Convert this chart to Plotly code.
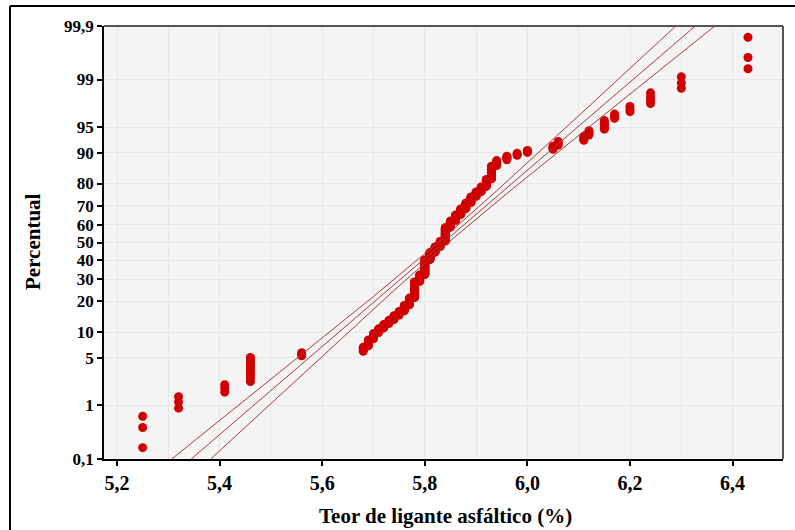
import plotly.graph_objects as go
from statistics import NormalDist

# ---- data ----
values = [5.25, 5.32, 5.41, 5.46, 5.56, 5.68, 5.69, 5.70, 5.71, 5.72, 5.73, 5.74, 5.75,
          5.76, 5.77, 5.78, 5.79, 5.80, 5.81, 5.82, 5.83, 5.84, 5.85, 5.86, 5.87, 5.88,
          5.89, 5.90, 5.91, 5.92, 5.93, 5.94, 5.96, 5.98, 6.00, 6.05, 6.06, 6.11, 6.12,
          6.15, 6.17, 6.20, 6.24, 6.30, 6.43]
counts = [3, 3, 3, 12, 3, 4, 6, 6, 5, 5, 5, 6, 6,
          9, 12, 30, 14, 33, 17, 13, 13, 32, 15, 13, 13, 12,
          12, 9, 9, 12, 19, 7, 5, 3, 3, 4, 4, 4, 4,
          6, 3, 3, 4, 3, 3]
ytick_pct = [0.1, 1, 5, 10, 20, 30, 40, 50, 60, 70, 80, 90, 95, 99, 99.9]
ytick_text = ["0,1", "1", "5", "10", "20", "30", "40", "50", "60", "70", "80", "90", "95", "99", "99,9"]
xtick_vals = [5.2, 5.4, 5.6, 5.8, 6.0, 6.2, 6.4]
fit_mean = 5.836
fit_sd = 0.159
band_mid = 0.010   # half-width of confidence band at 50 %
band_end = 0.038   # half-width of confidence band at the extremes

nd = NormalDist()
n = sum(counts)
x_pts, z_pts = [], []
i = 0
for v, c in zip(values, counts):
    for _ in range(c):
        i += 1
        x_pts.append(v)
        z_pts.append(nd.inv_cdf((i - 0.3) / (n + 0.4)))

zmax = nd.inv_cdf(0.999)
zline = [-zmax + 2 * zmax * k / 80 for k in range(81)]
b2 = (band_end ** 2 - band_mid ** 2) / zmax ** 2
half = [(band_mid ** 2 + b2 * z * z) ** 0.5 for z in zline]
x_fit = [fit_mean + fit_sd * z for z in zline]
x_lo = [xf - h for xf, h in zip(x_fit, half)]
x_hi = [xf + h for xf, h in zip(x_fit, half)]

fig = go.Figure()
fig.add_trace(go.Scatter(x=x_pts, y=z_pts, mode="markers",
                         marker=dict(color="#d00000", size=9, line=dict(width=0)),
                         showlegend=False, cliponaxis=False))
for xs in (x_lo, x_fit, x_hi):
    fig.add_trace(go.Scatter(x=xs, y=zline, mode="lines",
                             line=dict(color="#a83a3a", width=1),
                             showlegend=False))

W, H = 795, 530
L, R, T, B = 104, 12, 26, 71
pw, ph = W - L - R, H - T - B

def px(xp):
    return (xp - L) / pw

def py(yp):
    return (H - B - yp) / ph

xtickfont = dict(family="Liberation Serif", size=20, color="black", weight="bold")
ytickfont = dict(family="Liberation Serif", size=17, color="black", weight="bold")
titlefont = dict(family="Liberation Serif", size=21, color="black", weight="bold")
fig.update_layout(
    width=W, height=H,
    margin=dict(l=L, r=R, t=T, b=B, pad=0),
    paper_bgcolor="white", plot_bgcolor="#f4f4f4",
    separators=",.",
    xaxis=dict(range=[5.2 - 13 / 513, 5.2 + 666 / 513], tickvals=xtick_vals, tickformat=".1f",
               showgrid=True, gridcolor="#e6e6e6", gridwidth=1,
               minor=dict(dtick=0.1, tick0=5.2, showgrid=True, gridcolor="#e6e6e6", ticks=""),
               ticks="outside", ticklen=5, tickwidth=1.5, tickcolor="black",
               showline=True, linecolor="black", linewidth=1.5,
               tickfont=xtickfont, zeroline=False),
    yaxis=dict(range=[-zmax, zmax], tickvals=[nd.inv_cdf(p / 100) for p in ytick_pct],
               ticktext=ytick_text,
               showgrid=True, gridcolor="#e6e6e6", gridwidth=1,
               ticks="outside", ticklen=5, tickwidth=1.5, tickcolor="black",
               showline=True, linecolor="black", linewidth=1.5,
               tickfont=ytickfont, zeroline=False),
    shapes=[
        dict(type="line", xref="paper", yref="paper", x0=0, x1=1, y0=1, y1=1,
             line=dict(color="#555555", width=2)),
        dict(type="line", xref="paper", yref="paper", x0=1, x1=1, y0=0, y1=1,
             line=dict(color="#555555", width=2)),
        dict(type="line", xref="paper", yref="paper", x0=px(10), x1=px(W + 5), y0=py(6), y1=py(6),
             line=dict(color="black", width=2)),
        dict(type="line", xref="paper", yref="paper", x0=px(10), x1=px(10), y0=py(6), y1=py(H + 5),
             line=dict(color="black", width=2)),
    ],
    annotations=[
        dict(text="Teor de ligante asfáltico (%)", xref="paper", yref="paper",
             x=px(445), y=py(516), showarrow=False, xanchor="center", yanchor="middle",
             font=titlefont),
        dict(text="Percentual", xref="paper", yref="paper", textangle=-90,
             x=px(33), y=py(242), showarrow=False, xanchor="center", yanchor="middle",
             font=titlefont),
        dict(text="(a)", xref="paper", yref="paper", x=px(358), y=py(-1),
             showarrow=False, xanchor="center", yanchor="bottom",
             font=dict(family="Liberation Serif", size=24, color="black")),
    ],
)

fig.write_html("out.html")
